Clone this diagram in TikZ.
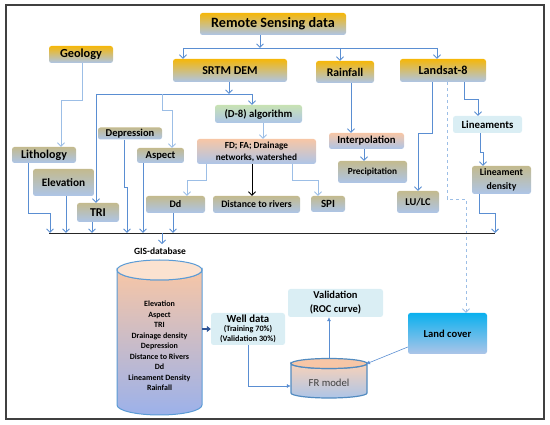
\documentclass[tikz,border=0pt]{standalone}
\usepackage{fontspec}
\setmainfont{Carlito}
\usetikzlibrary{arrows.meta}

\definecolor{goldtop}{HTML}{F5B70A}
\definecolor{boxblue}{HTML}{ADC5E8}
\definecolor{khakitop}{HTML}{C3BA8E}
\definecolor{greentop}{HTML}{C8E2B3}
\definecolor{salmontop}{HTML}{F7C6A6}
\definecolor{cyanbox}{HTML}{DAEEF4}
\definecolor{skytop}{HTML}{0AB0EE}
\definecolor{lnblue}{HTML}{5A8ED2}
\definecolor{lnlight}{HTML}{9CBEE6}
\definecolor{cylline}{HTML}{5B9BD5}
\definecolor{cyltop}{HTML}{FBE2D0}
\definecolor{fatblue}{HTML}{2F5597}

\begin{document}
\begin{tikzpicture}[x=1pt, y=-1pt]
        \tikzstyle{box}       = [rounded corners=2.5pt, inner sep=1pt, align=center]
        \tikzstyle{boxgold}   = [box, top color=goldtop, bottom color=boxblue]
        \tikzstyle{boxkhaki}  = [box, top color=khakitop, bottom color=boxblue]
        \tikzstyle{boxgreen}  = [box, top color=greentop, bottom color=boxblue]
        \tikzstyle{boxsalmon} = [box, top color=salmontop, bottom color=boxblue]
        \tikzstyle{boxcyan}   = [box, fill=cyanbox]
        \tikzstyle{boxsky}    = [box, top color=skytop, bottom color=boxblue]
        \tikzstyle{ln}   = [draw=lnblue, line width=0.9pt]
        \tikzstyle{arr}  = [ln, -{Straight Barb[length=3.5pt, width=7pt]}]
        \tikzstyle{arrl} = [arr, draw=lnlight]
        \tikzstyle{arrk} = [arr, draw=black]
        \tikzstyle{arrd} = [arr, draw=lnlight, dashed]
        \tikzstyle{arrf} = [draw=lnblue, line width=0.6pt, -{Latex[length=4pt, width=4pt]}]
        \tikzstyle{fat}  = [draw=fatblue, line width=2.5pt, -{Triangle[length=4pt, width=6pt]}]
        \tikzstyle{bus}  = [draw=black!85, line width=0.8pt]

        \useasboundingbox (0,0) rectangle (550,425);
        \draw[draw=black!75, line width=1.5pt] (6,5) rectangle (544,419);

        % The boxes.
        \foreach \nm/\x/\y/\w/\h/\sty/\fs/\ls/\txt in {
                  rs/273/24/146/22/boxgold/14.2/15/{Remote Sensing data},
                 geo/81/54.5/64/17/boxgold/12.3/13/Geology,
                srtm/230/70.5/114/23/boxgold/12/13/{SRTM DEM},
                rain/345/72/58/22/boxgold/11.7/13/Rainfall,
                land/443/70.5/86/23/boxgold/12.2/13/Landsat-8,
                lith/44/155/64/16/boxkhaki/12/13/Lithology,
                elev/63.5/182.5/61/27/boxkhaki/11.3/13/Elevation,
                 tri/98/212.5/42/19/boxkhaki/12/13/TRI,
                depr/130/133.5/64/12/boxkhaki/10.5/11/Depression,
                 asp/160.5/155.5/47/15/boxkhaki/10.6/11/Aspect,
              deight/258.5/114/87/18/boxgreen/10.7/12/{(D-8) algorithm},
                  fd/256.5/151.5/119/25/boxsalmon/9.3/12/{FD; FA; Drainage\\networks, watershed},
                  dd/175.5/204.5/59/17/boxkhaki/10/11/Dd,
                dist/256.5/204.5/87/17/boxkhaki/9.8/11/{Distance to rivers},
                 spi/328/204/34/16/boxkhaki/11/12/SPI,
              interp/366.5/141/75/16/boxsalmon/10.7/12/Interpolation,
              precip/372.5/172/69/22/boxkhaki/9.3/11/Precipitation,
                lulc/418/202/42/22/boxkhaki/10.4/12/{LU/LC},
                 lin/487.5/124.5/69/17/boxcyan/10.8/12/Lineaments,
                lind/501.5/180/59/28/boxkhaki/9.8/14/{Lineament\\density},
               valid/335.5/303/95/28/boxcyan/10.5/14/{Validation\\(ROC curve)},
                lcov/447.5/333.5/79/41/boxsky/10.6/12/{Land cover}} {
            \node[\sty, font=\fontsize{\fs}{\ls}\selectfont\bfseries,
                  minimum width=\w pt, minimum height=\h pt] (\nm) at (\x,\y) {\txt};
        }
        \node[boxcyan, font=\fontsize{8.2}{10}\selectfont\bfseries,
              minimum width=74pt, minimum height=32pt] (well) at (248,329)
            {{\fontsize{10.8}{12}\selectfont Well data}\\[-1.5pt](Training 70\%)\\(Validation 30\%)};

        % The two cylinders.
        \shade[top color=salmontop, bottom color=boxblue!90!blue, draw=cylline, line width=1pt]
            (117,270) -- (117,405) arc[start angle=180, end angle=0, x radius=42.5, y radius=10]
            -- (202,270) arc[start angle=0, end angle=180, x radius=42.5, y radius=10] -- cycle;
        \draw[fill=cyltop, draw=cylline, line width=1pt] (159.5,270) ellipse[x radius=42.5, y radius=10];
        \node[font=\fontsize{8}{10.5}\selectfont\bfseries, align=center, minimum width=85pt]
            (gisdb) at (159.5,346)
            {Elevation\\Aspect\\TRI\\Drainage density\\Depression\\
             Distance to Rivers\\Dd\\Lineament Density\\Rainfall};
        \node[font=\fontsize{9.5}{11}\selectfont\bfseries] (gislbl) at (160,251) {GIS-database};

        \shade[top color=salmontop!80, bottom color=boxblue, draw=cylline!90!black, line width=1.2pt]
            (291,363.5) -- (291,393) arc[start angle=180, end angle=0, x radius=38, y radius=5]
            -- (367,363.5) arc[start angle=0, end angle=180, x radius=38, y radius=5] -- cycle;
        \draw[fill=salmontop, draw=cylline!90!black, line width=1.2pt] (329,363.5) ellipse[x radius=38, y radius=5];
        \node[font=\fontsize{10.7}{12}\selectfont, minimum width=76pt, minimum height=30pt,
              text=black!75] (fr) at (329,383) {FR model};

        % Remote sensing data to its sources.
        \coordinate (rsb) at (260,48);
        \coordinate (tl) at (183,48);
        \coordinate (tm) at (340,48);
        \coordinate (tr) at (437,48);
        \draw[arr] (rs.south -| rsb) -- (rsb);
        \draw[ln] (tl) -- (tr);
        \draw[arr] (tl) -- (tl |- srtm.north);
        \draw[arr] (tm) -- (tm |- rain.north);
        \draw[arr] (tr) -- (tr |- land.north);

        % Geology.
        \coordinate (g1) at (82,100);
        \coordinate (g2) at (61,100);
        \draw[arrl] (geo.south -| g1) -- (g1) -- (g2) -- (g2 |- lith.north);

        % SRTM DEM.
        \coordinate (s0) at (229,94);
        \coordinate (sl) at (96,94);
        \coordinate (sr) at (252,94);
        \coordinate (a1) at (162,94);
        \coordinate (a2) at (162,110);
        \coordinate (a3) at (172,110);
        \draw[arr] (srtm.south -| s0) -- (s0);
        \draw[ln] (sl) -- (sr);
        \draw[arr] (sl) -- (sl |- tri.north);
        \draw[arr] (sr) -- (sr |- deight.north);
        \draw[arrl] (a1) -- (a2) -- (a3) -- (a3 |- asp.north);

        % Flow direction and accumulation.
        \coordinate (d1) at (263,0);
        \coordinate (f0) at (252,0);
        \coordinate (f1) at (206,180);
        \coordinate (f2) at (187,180);
        \coordinate (f3) at (292,180);
        \coordinate (f4) at (318,180);
        \draw[arrl] (deight.south -| d1) -- (fd.north -| d1);
        \draw[arrk] (fd.south -| f0) -- (dist.north -| f0);
        \draw[arrl] (fd.south -| f1) -- (f1) -- (f2) -- (f2 |- dd.north);
        \draw[arrl] (fd.south -| f3) -- (f3) -- (f4) -- (f4 |- spi.north);

        % Rainfall.
        \coordinate (r1) at (351,0);
        \coordinate (r2) at (364,0);
        \draw[arr] (rain.south -| r1) -- (interp.north -| r1);
        \draw[arr] (interp.south -| r2) -- (precip.north -| r2);

        % Landsat-8.
        \coordinate (l1) at (432,133);
        \coordinate (l2) at (418,133);
        \coordinate (l3) at (447,199);
        \coordinate (l4) at (466,199);
        \coordinate (l5) at (464,99);
        \coordinate (l6) at (478,99);
        \coordinate (l7) at (480,152);
        \coordinate (l8) at (483,152);
        \draw[arr]  (land.south -| l1) -- (l1) -- (l2) -- (l2 |- lulc.north);
        \draw[arrd] (land.south -| l3) -- (l3) -- (l4) -- (l4 |- lcov.north);
        \draw[arr]  (land.south -| l5) -- (l5) -- (l6) -- (l6 |- lin.north);
        \draw[arr]  (lin.south -| l7) -- (l7) -- (l8) -- (l8 |- lind.north);

        % The layers into the database.
        \coordinate (busl) at (49,233);
        \coordinate (busr) at (495,233);
        \coordinate (b1) at (28,213);
        \coordinate (b2) at (50,213);
        \coordinate (p1) at (124,187);
        \coordinate (p2) at (127,187);
        \coordinate (q1) at (479,213);
        \coordinate (q2) at (495,213);
        \coordinate (gb) at (162,233);
        \draw[bus] (busl) -- (busr);
        \draw[arr] (lith.south -| b1) -- (b1) -- (b2) -- (b2 |- busl);
        \draw[arr] (depr.south -| p1) -- (p1) -- (p2) -- (p2 |- busl);
        \draw[arr] (lind.south -| q1) -- (q1) -- (q2) -- (q2 |- busr);
        \foreach \bx/\src in {66/elev, 92/tri, 143/asp, 173/dd}
            \draw[arr] (\src.south -| \bx,0) -- (\bx,233);
        \draw[arr] (gb) -- (gb |- gislbl.north);

        % The model.
        \coordinate (w1) at (248,386);
        \coordinate (frtop) at (329,358.5);
        \coordinate (frtr) at (366,364);
        \draw[fat]  (gisdb.east |- well.west) -- (well.west);
        \draw[arrf] (well.south -| w1) -- (w1) -- (w1 -| fr.west);
        \draw[arrf] (frtop) -- (valid.south -| frtop);
        \draw[arrf] (lcov.west |- 0,347) -- (frtr);
\end{tikzpicture}
\end{document}
